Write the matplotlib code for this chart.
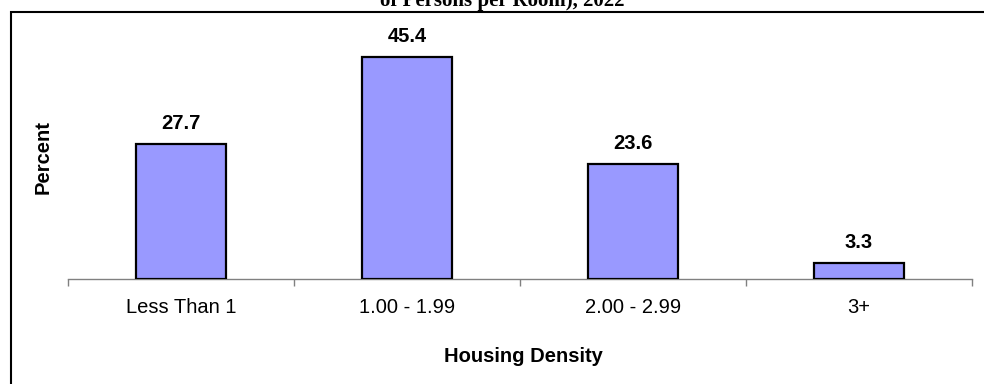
import matplotlib
matplotlib.use("Agg")
import matplotlib.pyplot as plt
from matplotlib.patches import Rectangle

categories = ["Less Than 1", "1.00 - 1.99", "2.00 - 2.99", "3+"]
values = [27.7, 45.4, 23.6, 3.3]
value_labels = ["27.7", "45.4", "23.6", "3.3"]
title_text = "of Persons per Room), 2022"
xlabel_text = "Housing Density"
ylabel_text = "Percent"

W, H = 984, 384
fig = plt.figure(figsize=(W / 100, H / 100), dpi=100)
sans = ["Liberation Sans", "DejaVu Sans"]
serif = ["Liberation Serif", "DejaVu Serif"]

ax = fig.add_axes([68 / W, 1 - 279 / H, (972 - 68) / W, (279 - 34.5) / H])
x = [i + 0.5 for i in range(len(categories))]
ax.bar(x, values, width=0.4, color="#9999FF", edgecolor="black", linewidth=1.6, zorder=3)
ax.set_xlim(0, len(categories))
ax.set_ylim(0, 50)

for xi, v, lab in zip(x, values, value_labels):
    ax.annotate(lab, (xi, v), xytext=(0, 11), textcoords="offset pixels",
                ha="center", va="bottom", fontsize=14.5, fontweight="bold",
                family=sans)

ax.set_xticks(x)
ax.set_xticklabels(categories, fontsize=14.5, family=sans)
ax.tick_params(axis="x", which="major", length=0, pad=14)
ax.set_xticks(range(len(categories) + 1), minor=True)
ax.tick_params(axis="x", which="minor", length=5, width=1, color="#808080", direction="out")
ax.set_yticks([])
for s in ["top", "right", "left"]:
    ax.spines[s].set_visible(False)
ax.spines["bottom"].set_color("#808080")
ax.spines["bottom"].set_linewidth(1)
ax.set_facecolor("none")

fig.text(523 / W, 1 - 356 / H, xlabel_text, ha="center", va="center",
         fontsize=14.5, fontweight="bold", family=sans)
fig.text(43 / W, 1 - 157 / H, ylabel_text, ha="center", va="center",
         rotation=90, fontsize=14.5, fontweight="bold", family=sans)

fig.text(502 / W, 1 - 6 / H, title_text, ha="center", va="baseline",
         fontsize=15, fontweight="bold", family=serif)

border = Rectangle((10.5 / W, -0.2), 1.2, 1.2 - 11.5 / H + 0.0, transform=fig.transFigure,
                   fill=False, edgecolor="black", linewidth=1.5, clip_on=False)
fig.patches.append(border)

fig.savefig("out.png", dpi=100)
